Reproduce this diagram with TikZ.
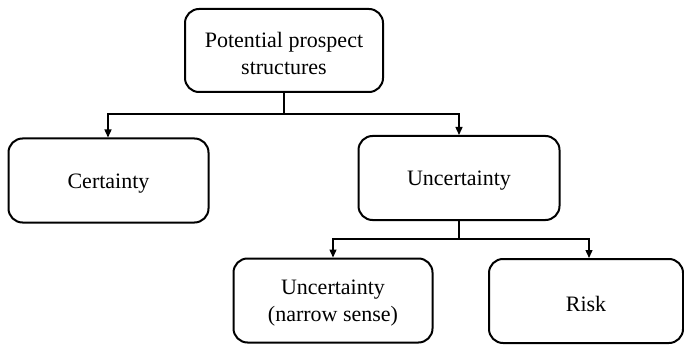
\documentclass[tikz,border=0pt]{standalone}
\usepackage{fontspec}
\setmainfont{Liberation Serif}
\usetikzlibrary{arrows.meta}
\begin{document}
\begin{tikzpicture}[x=1pt,y=-1pt,
  box/.style={draw,line width=2pt,rounded corners=14pt,inner sep=0pt},
  txt/.style={align=center,font=\fontsize{22}{27}\selectfont,inner sep=0pt},
  link/.style={line width=1.4pt},
  arr/.style={line width=1.4pt,-{Triangle[length=8pt,width=7pt]}}]
\useasboundingbox (0,0) rectangle (684,347);
% boxes, placed by their centres
\node[box,minimum width=198pt,minimum height=83pt] (top) at (284,50.5) {};
\node[box,minimum width=200pt,minimum height=84pt] (cert) at (108.5,180.5) {};
\node[box,minimum width=201pt,minimum height=84pt] (unc) at (459,178) {};
\node[box,minimum width=199pt,minimum height=84pt] (narrow) at (333,300.5) {};
\node[box,minimum width=194pt,minimum height=84pt] (risk) at (586,301) {};
% box texts, set a little below the centre
\node[txt] (topt) at ([yshift=-3pt]top.center) {Potential prospect\\structures};
\node[txt] (certt) at ([yshift=-3pt]cert.center) {Certainty};
\node[txt] (unct) at ([yshift=-3pt]unc.center) {Uncertainty};
\node[txt] (narrowt) at ([yshift=-3pt]narrow.center) {Uncertainty\\(narrow sense)};
\node[txt] (riskt) at ([yshift=-3pt]risk.center) {Risk};
% junction points of the tree connectors
\coordinate (j1) at (284,114);
\coordinate (j1l) at (108,114);
\coordinate (j1r) at (459,114);
\coordinate (j2) at (459,239);
\coordinate (j2l) at (333,239);
\coordinate (j2r) at (589,239);
\draw[link] (top.south) -- (j1);
\draw[arr] (j1) -- (j1l) -- (j1l |- cert.north);
\draw[arr] (j1) -- (j1r) -- (j1r |- unc.north);
\draw[link] (unc.south) -- (j2);
\draw[arr] (j2) -- (j2l) -- (j2l |- narrow.north);
\draw[arr] (j2) -- (j2r) -- (j2r |- risk.north);
\end{tikzpicture}
\end{document}
